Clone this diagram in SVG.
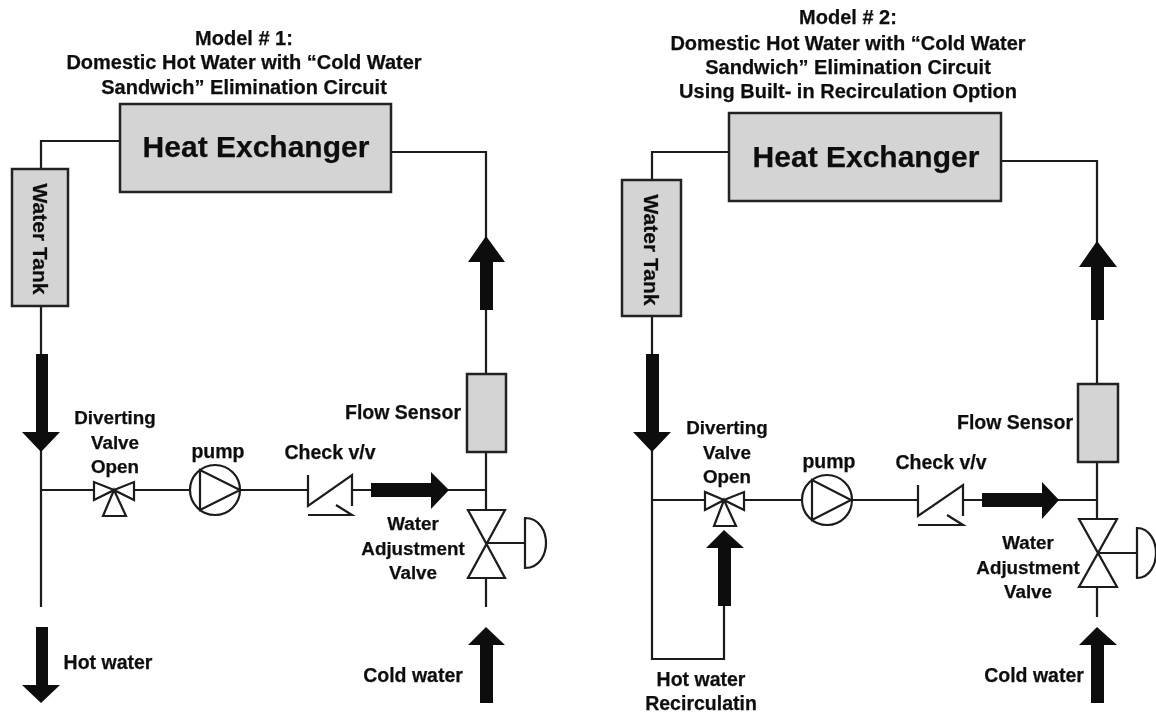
<svg xmlns="http://www.w3.org/2000/svg" width="1156" height="714" viewBox="0 0 1156 714">
<defs>
<filter id="soft" x="-2%" y="-2%" width="104%" height="104%"><feGaussianBlur stdDeviation="0.6"/></filter>
</defs>
<style>
text{font-family:"Liberation Sans",Arial,sans-serif;font-weight:700;fill:#111;stroke:#111;stroke-width:.25;text-anchor:middle;font-size:19.5px}
.tt{font-size:20px}
.he{font-size:30px}
.tk{font-size:21px}
.dv{font-size:18.8px}
.box{fill:#d4d4d4;stroke:#222;stroke-width:2.5}
.ln{fill:none;stroke:#1a1a1a;stroke-width:2.2}
.sym{fill:#fff;stroke:#1a1a1a;stroke-width:2.2}
.ar{fill:#111;stroke:none}
</style>
<rect width="1156" height="714" fill="#fff"/>
<g filter="url(#soft)">
<g id="connectors">
<path class="ln" d="M41 169V141H120M391 152H486V374M486 452V510M486 578V607M41 306V607M41 490H94M134 490H190M241 490H308M352 490H372M431 490H486"/>
<path class="ar" d="M36 354H48V432H60L41 452L22 432H36Z"/>
<path class="ar" d="M36 627H48V685H60L41 703L22 685H36Z"/>
<path class="ar" d="M480 310H493V262H505L486 236L468 262H480Z"/>
<path class="ar" d="M480 703H493V645H505L486 627L468 645H480Z"/>
<path class="ar" d="M371 483H431V472L449 490L431 509V497H371Z"/>
<path class="ln" d="M652 180V152H729M1001 161H1097V384M1097 462V519M1097 587V617M652 316V659H724V606M652 500H705M744 500H802M852 500H918M963 500H982M1042 500H1097"/>
<path class="ar" d="M646 354H659V432H671L652 452L633 432H646Z"/>
<path class="ar" d="M718 606H731V548H744L724 530L706 548H718Z"/>
<path class="ar" d="M1091 320H1104V267H1117L1097 241L1079 267H1091Z"/>
<path class="ar" d="M1091 703H1104V645H1117L1097 627L1079 645H1091Z"/>
<path class="ar" d="M982 493H1042V482L1059 500L1042 519V507H982Z"/>
</g>
<g id="m1-title">
<text class="tt" x="244" y="45">Model # 1:</text>
<text class="tt" x="244" y="69">Domestic Hot Water with “Cold Water</text>
<text class="tt" x="244" y="94">Sandwich” Elimination Circuit</text>
</g>
<g id="m1-heat-exchanger"><rect class="box" x="120" y="104" width="271" height="88"/><text class="he" x="256" y="157">Heat Exchanger</text></g>
<g id="m1-water-tank"><rect class="box" x="12" y="169" width="56" height="137"/><text class="tk" transform="translate(33 239) rotate(90)">Water Tank</text></g>
<g id="m1-flow-sensor"><rect class="box" x="467" y="374" width="39" height="78"/><text x="403" y="419">Flow Sensor</text></g>
<g id="m1-diverting-valve"><path class="sym" d="M114 490L94 482V500ZM114 490L134 482V500ZM114 490L103 516H126Z"/><text class="dv" x="115" y="424">Diverting</text><text class="dv" x="115" y="449">Valve</text><text class="dv" x="115" y="473">Open</text></g>
<g id="m1-pump"><circle class="sym" cx="215" cy="490" r="25"/><path class="ln" d="M200 470V510L240 490Z"/><text x="218" y="458">pump</text></g>
<g id="m1-check-valve"><path class="ln" d="M308 475V506L352 475V506M308 515H352L336 505"/><text x="330" y="459">Check v/v</text></g>
<g id="m1-adjust-valve"><path class="sym" d="M468 510H505L468 578H505Z"/><path class="ln" d="M486 543H525"/><path class="sym" d="M525 518C540 518 546 532 546 543C546 554 540 568 525 568Z"/><text class="dv" x="413" y="530">Water</text><text class="dv" x="413" y="555">Adjustment</text><text class="dv" x="413" y="579">Valve</text></g>
<g id="m1-hot"><text x="108" y="669">Hot water</text></g>
<g id="m1-cold"><text x="413" y="682">Cold water</text></g>

<g id="m2-title">
<text class="tt" x="848" y="24">Model # 2:</text>
<text class="tt" x="848" y="50">Domestic Hot Water with “Cold Water</text>
<text class="tt" x="848" y="74">Sandwich” Elimination Circuit</text>
<text class="tt" x="848" y="98">Using Built- in Recirculation Option</text>
</g>
<g id="m2-heat-exchanger"><rect class="box" x="729" y="113" width="272" height="88"/><text class="he" x="866" y="167">Heat Exchanger</text></g>
<g id="m2-water-tank"><rect class="box" x="622" y="180" width="59" height="136"/><text class="tk" transform="translate(644 250) rotate(90)">Water Tank</text></g>
<g id="m2-flow-sensor"><rect class="box" x="1078" y="384" width="40" height="78"/><text x="1015" y="429">Flow Sensor</text></g>
<g id="m2-diverting-valve"><path class="sym" d="M724 500L705 492V510ZM724 500L744 492V510ZM724 500L714 526H736Z"/><text class="dv" x="727" y="434">Diverting</text><text class="dv" x="727" y="459">Valve</text><text class="dv" x="727" y="483">Open</text></g>
<g id="m2-pump"><circle class="sym" cx="827" cy="500" r="25"/><path class="ln" d="M812 480V520L851 500Z"/><text x="829" y="468">pump</text></g>
<g id="m2-check-valve"><path class="ln" d="M918 485V516L963 485V516M918 525H963L947 515"/><text x="941" y="469">Check v/v</text></g>
<g id="m2-adjust-valve"><path class="sym" d="M1079 519H1117L1079 587H1117Z"/><path class="ln" d="M1097 553H1137"/><path class="sym" d="M1137 528C1150 528 1156 542 1156 553C1156 564 1150 578 1137 578Z"/><text class="dv" x="1028" y="549">Water</text><text class="dv" x="1028" y="574">Adjustment</text><text class="dv" x="1028" y="598">Valve</text></g>
<g id="m2-recirc"><text x="701" y="686">Hot water</text><text x="701" y="710">Recirculatin</text></g>
<g id="m2-cold"><text x="1034" y="682">Cold water</text></g>
</g>
</svg>
